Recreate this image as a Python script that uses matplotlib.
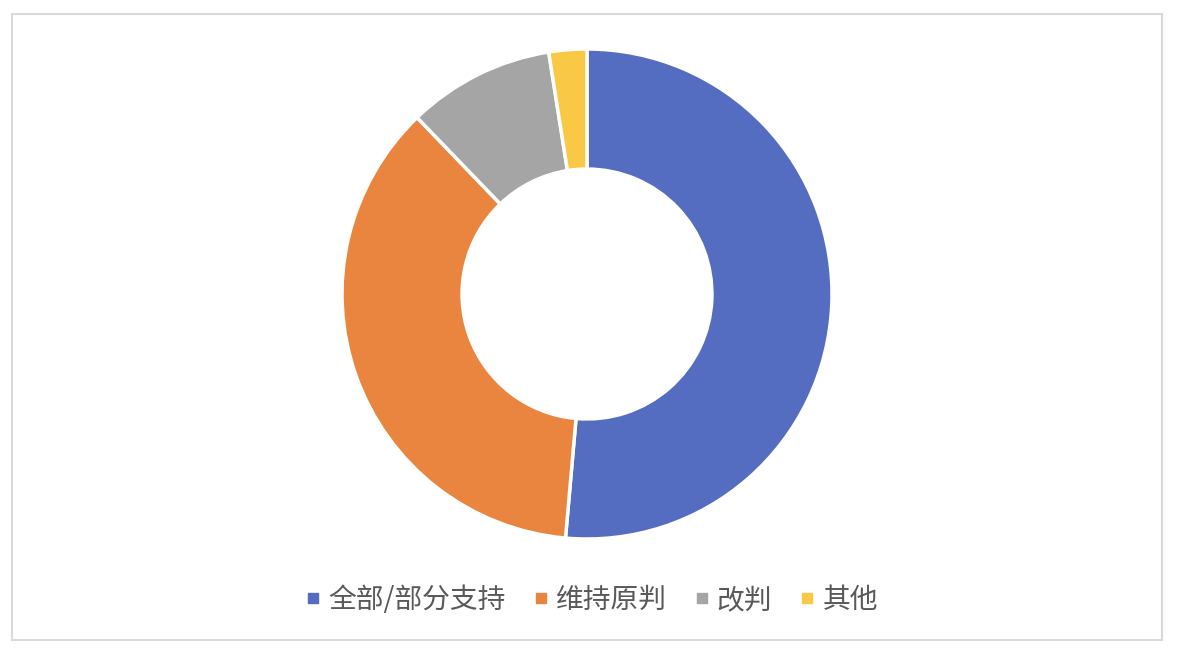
import matplotlib
matplotlib.use("Agg")
import matplotlib.pyplot as plt
from matplotlib.lines import Line2D
from matplotlib.patches import Rectangle

plt.rcParams['font.family'] = ['Noto Sans CJK SC', 'DejaVu Sans']

# данные
labels = ["全部/部分支持", "维持原判", "改判", "其他"]
shares = [51.4, 36.4, 9.7, 2.5]
colors = ["#546DC0", "#E9853F", "#A5A5A5", "#F9C844"]

fig = plt.figure(figsize=(11.82, 6.56), dpi=100)

# рамка вокруг диаграммы
fig.patches.append(Rectangle((12 / 1182, 16 / 656), 1150 / 1182, 626 / 656,
                             transform=fig.transFigure, fill=False,
                             edgecolor="#D9D9D9", linewidth=1.5))

ax = fig.add_axes([(587 - 245) / 1182, (362 - 245) / 656, 490 / 1182, 490 / 656])
ax.pie(shares, colors=colors, startangle=90, counterclock=False, radius=1.0,
       wedgeprops=dict(width=0.49, edgecolor="white", linewidth=2.5))
ax.set_xlim(-1, 1)
ax.set_ylim(-1, 1)
ax.set_aspect("equal")
ax.axis("off")

handles = [Line2D([], [], marker="s", linestyle="none", markersize=7,
                  markerfacecolor=c, markeredgecolor=c) for c in colors]
fig.legend(handles, labels, loc="center", bbox_to_anchor=(592 / 1182, 56 / 656),
           ncol=4, frameon=False, fontsize=20, labelcolor="#595959",
           handlelength=0.5, handletextpad=0.3, columnspacing=1.0)

fig.savefig("out.png", dpi=100)
